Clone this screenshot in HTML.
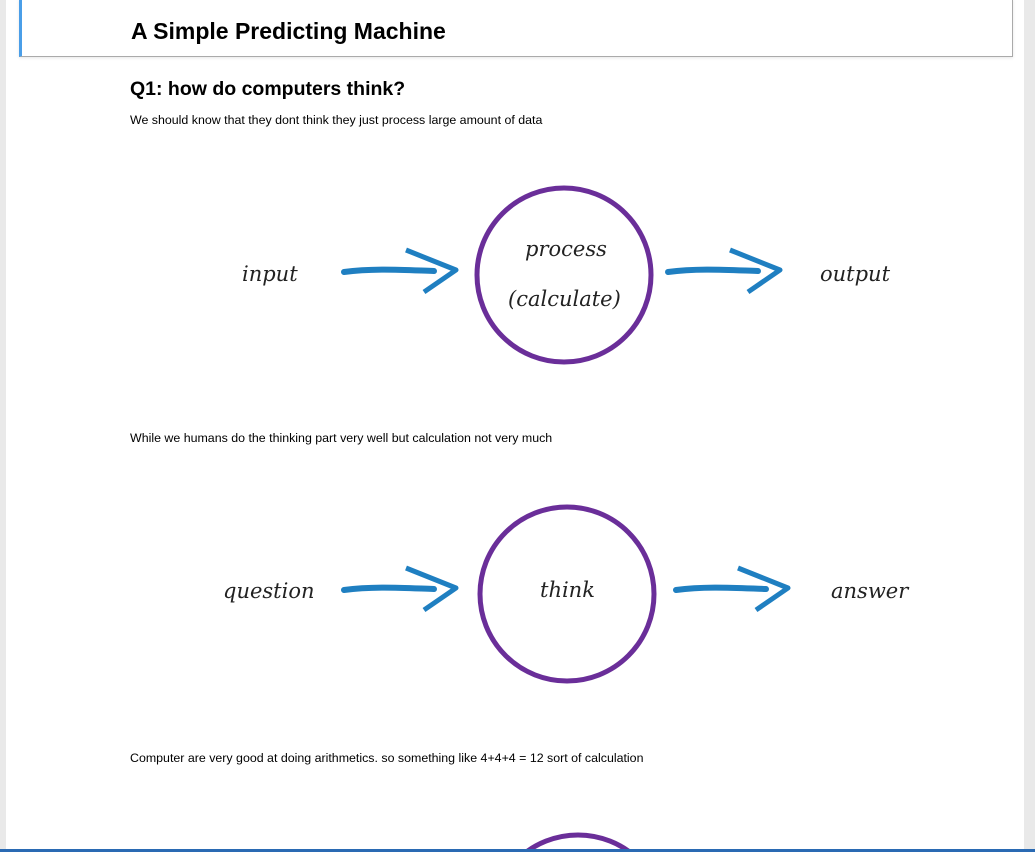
<!DOCTYPE html>
<html><head><meta charset="utf-8"><style>
html,body{margin:0;padding:0;overflow:hidden;}
body{width:1035px;height:852px;background:#e9e9e9;position:relative;overflow:hidden;font-family:"Liberation Sans",Arial,sans-serif;color:#000;}
.panel{position:absolute;left:6px;top:0;width:1018px;height:852px;background:#fff;}
.hdr{position:absolute;left:19px;top:-1px;width:990px;height:56px;border:1px solid #aaa;border-left:3px solid #4a9ee8;background:#fff;box-shadow:0 1px 3px rgba(0,0,0,.1);}
.hdr h1{position:absolute;left:109px;top:18px;margin:0;font-size:23px;font-weight:bold;}
h2{position:absolute;left:130px;top:78px;margin:0;font-size:19.5px;font-weight:bold;}
.p{position:absolute;left:130px;font-size:12.4px;}
.hand{font-family:"DejaVu Serif","Liberation Serif",serif;font-style:italic;font-size:21px;fill:#222;}
.bar{position:absolute;left:0;top:849px;width:1035px;height:3px;background:#2a6ab3;}
</style></head><body>
<div class="panel"></div>
<div class="hdr"><h1>A Simple Predicting Machine</h1></div>
<h2>Q1: how do computers think?</h2>
<div class="p" style="top:113px">We should know that they dont think they just process large amount of data</div>
<div class="p" style="top:431px">While we humans do the thinking part very well but calculation not very much</div>
<div class="p" style="top:751px">Computer are very good at doing arithmetics. so something like 4+4+4 = 12 sort of calculation</div>
<svg width="1035" height="849" style="position:absolute;left:0;top:0">
<defs>
<g id="arr"><path d="M0 0 C30 -4 60 -2 90 -1" stroke="#1f7fc1" stroke-width="6" fill="none" stroke-linecap="round"/>
<path d="M62 -22 L112 -2 L80 20" stroke="#1f7fc1" stroke-width="5" fill="none" stroke-linejoin="round"/></g>
</defs>
<circle cx="564" cy="275" r="87" fill="none" stroke="#6a2e99" stroke-width="5"/>
<use href="#arr" x="344" y="272"/>
<use href="#arr" x="668" y="272"/>
<text class="hand" x="242" y="281">input</text>
<text class="hand" x="525" y="256">process</text>
<text class="hand" x="508" y="306">(calculate)</text>
<text class="hand" x="820" y="281">output</text>
<circle cx="567" cy="594" r="87" fill="none" stroke="#6a2e99" stroke-width="5"/>
<use href="#arr" x="344" y="590"/>
<use href="#arr" x="676" y="590"/>
<text class="hand" x="223" y="598">question</text>
<text class="hand" x="540" y="597">think</text>
<text class="hand" x="831" y="598">answer</text>
<circle cx="578" cy="922" r="87" fill="none" stroke="#6a2e99" stroke-width="5"/>
</svg>
<div class="bar"></div>
</body></html>
